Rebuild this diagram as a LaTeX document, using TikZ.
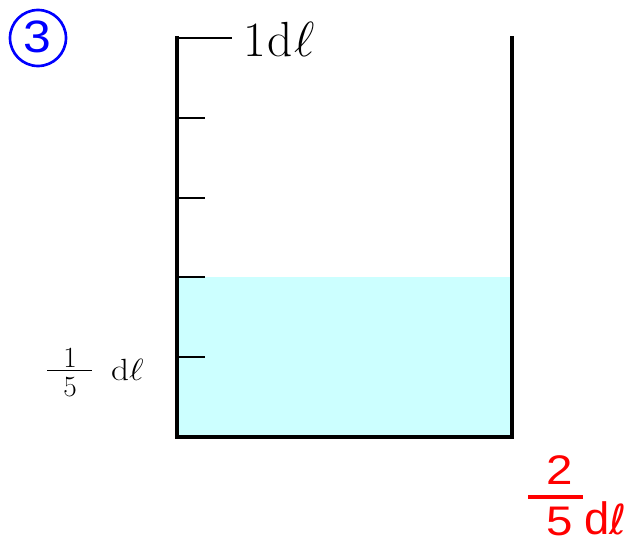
\RequirePackage{fix-cm}
\documentclass[tikz,border=0pt]{standalone}
\usepackage{fontspec}
\newfontfamily\arialf{Liberation Sans}
\newfontfamily\dejaf{DejaVu Sans}
\definecolor{water}{HTML}{CCFFFF}
\definecolor{bblue}{HTML}{0000FF}
\definecolor{rred}{HTML}{FF0000}
\begin{document}
\begin{tikzpicture}[x=0.75pt,y=-0.75pt,
  wall/.style={line width=3pt,line cap=rect},
  tick/.style={line width=1.1pt},
  lbl/.style={inner sep=0pt,outer sep=0pt},
  redtxt/.style={lbl,text=rred,font=\arialf\fontsize{31}{33}\selectfont}]
\useasboundingbox (0,0) rectangle (636,542);
% water
\fill[water] (177,277) rectangle (512,437);
% walls
\coordinate (tl) at (177,38);
\coordinate (bl) at (177,437);
\coordinate (br) at (512,437);
\coordinate (tr) at (512,38);
\draw[wall] (tl) -- (bl) -- (br) -- (tr);
% ticks
\coordinate (t0) at (232,38);
\draw[tick] (tl) -- (t0);
\foreach \y in {118,198,277,357}{\draw[tick] (177,\y) -- (205,\y);}
% top label
\node[lbl,anchor=base west,font=\fontsize{37}{42}\selectfont] (top) at (243,57) {1\kern1.5pt d\kern1.5pt$\ell$};
% circled 3
\node[circle,draw=bblue,line width=2pt,minimum size=56*0.75pt,inner sep=0pt] (c3) at (38,38) {};
\node[lbl,text=bblue,font=\arialf\fontsize{34}{36}\selectfont,xscale=1.1] (n3) at (37.5,36.5) {3};
% left fraction
\node[lbl,font=\fontsize{22}{24}\selectfont] (f1) at (70,357.5) {1};
\node[lbl,font=\fontsize{22}{24}\selectfont] (f5) at (70,387.5) {5};
\coordinate (fa) at (47,370);
\coordinate (fb) at (92,370);
\draw[line width=0.6pt] (fa) -- (fb);
\node[lbl,font=\fontsize{23}{24}\selectfont,anchor=base west,xscale=1.15] (fd) at (111,380) {d$\ell$};
% red fraction
\node[redtxt,xscale=1.15] (r2) at (560,470) {2};
\coordinate (ra) at (528,497);
\coordinate (rb) at (583,497);
\draw[rred,line width=3pt] (ra) -- (rb);
\node[redtxt,xscale=1.15] (r5) at (560,521) {5};
\node[lbl,text=rred,font=\arialf\fontsize{34}{36}\selectfont,anchor=base west] (rd) at (584,534) {d};
\node[lbl,text=rred,font=\dejaf\fontsize{31}{33}\selectfont,anchor=base west] (rl) at (609,534) {ℓ};
\end{tikzpicture}
\end{document}
